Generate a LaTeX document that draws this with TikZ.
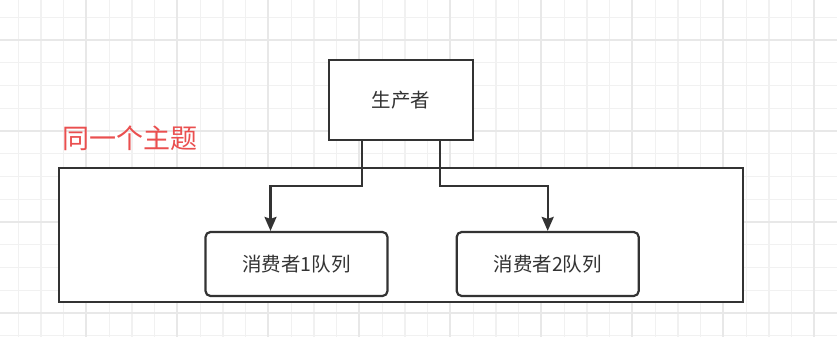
\documentclass[tikz,border=0pt]{standalone}
\usepackage{fontspec}
\usepackage{xcolor}
\usetikzlibrary{arrows.meta, positioning}
\newfontfamily\cjk{Noto Sans CJK SC}
\definecolor{linegray}{HTML}{333333}
\definecolor{topicred}{HTML}{EA4F4F}
\definecolor{gridminor}{HTML}{F1F1F1}
\definecolor{gridmajor}{HTML}{E8E8E8}
\tikzset{
    topicdiagram/.style={>={Stealth[length=14pt, width=12pt, inset=2pt]}, x=1pt, y=1pt, line width=2.2pt, draw=linegray},
    squarebox/.style={draw=linegray, fill=white, line width=2.2pt, minimum width=144pt, minimum height=80pt, font=\cjk\fontsize{19.5}{23}\selectfont, text=linegray},
    queuebox/.style={draw=linegray, fill=white, line width=2.2pt, rounded corners=5pt, minimum width=182pt, minimum height=64pt, font=\cjk\fontsize{19.5}{23}\selectfont, text=linegray},
    topicframe/.style={draw=linegray, fill=white, line width=2.2pt},
    topiclabel/.style={font=\cjk\fontsize{27}{32}\selectfont, text=topicred, anchor=west, inner sep=0pt},
    % background grid of the canvas
    minorline/.style={draw=gridminor, line width=1.2pt},
    majorline/.style={draw=gridmajor, line width=1.4pt},
}

\begin{document}
\begin{tikzpicture}[topicdiagram]
    \useasboundingbox (0,0) rectangle (837,337);
    \fill[white] (0,0) rectangle (837,337);

    % grid
    \foreach \i in {0,...,37}
        \draw[minorline] ({-4.5+22.75*\i},0) -- ++(0,337);
    \foreach \j in {-2,...,14}
        \draw[minorline] (0,{297-22.75*\j}) -- ++(837,0);
    \foreach \i in {0,...,9}
        \draw[majorline] ({-5+91*\i},0) -- ++(0,337);
    \foreach \j in {0,...,3}
        \draw[majorline] (0,{297-91*\j}) -- ++(837,0);

    \draw[topicframe] (59,35) rectangle (743,169);
    \node[topiclabel] (topic) at (61,199) {同一个主题};

    \node[squarebox] (producer) at (401,237) {生产者};
    \node[queuebox] (queue1) at (296.5,73) {消费者1队列};
    \node[queuebox, right=67pt of queue1] (queue2) {消费者2队列};

    \draw[->] ([xshift=-39pt]producer.south) -- ++(0,-45) -| ([xshift=-26pt]queue1.north);
    \draw[->] ([xshift=39pt]producer.south) -- ++(0,-45) -| ([xshift=0pt]queue2.north);
\end{tikzpicture}
\end{document}
